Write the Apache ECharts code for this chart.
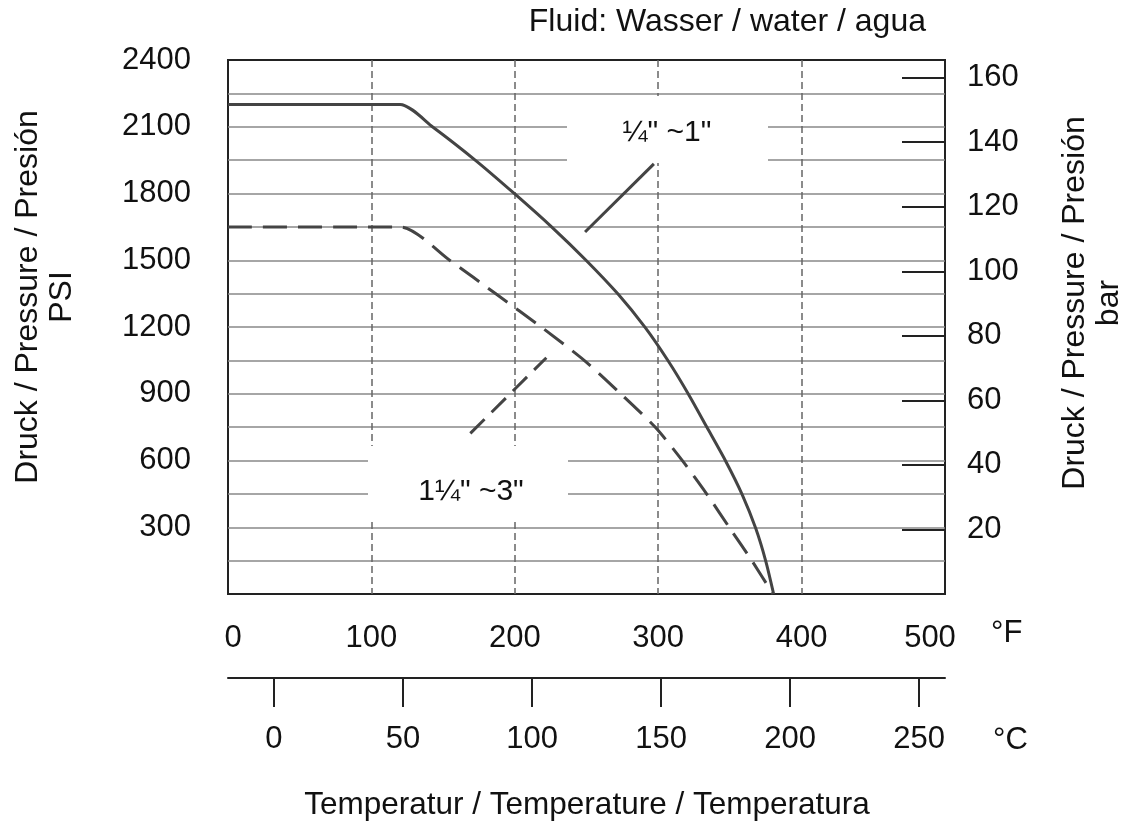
<!DOCTYPE html>
<html>
<head>
    <meta charset="utf-8">
    <title>Druck / Temperatur</title>
    <style>
        html, body { margin: 0; padding: 0; background: #fff; }
        #chart { width: 1130px; height: 830px; }
    </style>
</head>
<body>
<div id="chart"></div>
<script src="https://cdn.jsdelivr.net/npm/echarts@6/dist/echarts.min.js"></script>
<script>
    // 1/4" ~ 1" (solid)
    var smallTempF = [0, 120, 143, 173, 200, 226, 250, 272, 291, 307, 321, 334, 347, 358.5, 368, 375, 380.5];
    var smallPsi = [2200, 2200, 2098, 1947, 1798, 1648, 1498, 1348, 1197, 1047, 899, 749, 598, 448, 295, 148, 0];
    // 1 1/4" ~ 3" (dashed)
    var largeTempF = [0, 120, 155, 187, 219, 249, 274, 298, 317, 334, 350, 365.5, 380];
    var largePsi = [1650, 1650, 1498, 1348, 1197, 1047, 899, 749, 598, 448, 295, 148, 0];
    // leader lines of the two labels
    var smallLeaderF = [249, 297];
    var smallLeaderPsi = [1627, 1933];
    var largeLeaderF = [169, 222];
    var largeLeaderPsi = [722, 1062];

    var psiTicks = [300, 600, 900, 1200, 1500, 1800, 2100, 2400];
    var barTicks = [20, 40, 60, 80, 100, 120, 140, 160];
    var celsiusTicks = [0, 50, 100, 150, 200, 250];
    var PSI_PER_BAR = 14.5038;

    var FONT = '"Liberation Sans", Arial, sans-serif';
    var txt = '#111';

    function pairs(xs, ys) {
        var out = [];
        for (var i = 0; i < xs.length; i++) {
            out.push([xs[i], ys[i]]);
        }
        return out;
    }

    var chart = echarts.init(document.getElementById('chart'));

    chart.setOption({
        animation: false,
        backgroundColor: '#fff',
        grid: {
            left: 228, top: 60, width: 717, height: 534,
            show: true, borderColor: '#222', borderWidth: 2
        },
        xAxis: [
            {
                type: 'value', min: 0, max: 500, interval: 100,
                axisLine: { show: false, onZero: false },
                axisTick: { show: false },
                axisLabel: {
                    margin: 29, fontSize: 31, color: txt, fontFamily: FONT,
                    formatter: function (v) {
                        if (v === 0) return '{l|0}';
                        if (v === 500) return '{r|500}';
                        return String(v);
                    },
                    rich: {
                        l: { fontSize: 31, color: txt, fontFamily: FONT, padding: [0, 0, 0, 10] },
                        r: { fontSize: 31, color: txt, fontFamily: FONT, padding: [0, 30, 0, 0] }
                    }
                },
                splitLine: {
                    show: true, showMinLine: false, showMaxLine: false,
                    lineStyle: { color: '#666', width: 1.5, type: [7, 4] }
                }
            },
            {
                type: 'value', position: 'bottom', offset: 84,
                min: (0 - 32) / 1.8, max: (500 - 32) / 1.8,
                axisLine: { show: true, onZero: false, lineStyle: { color: '#222', width: 2 } },
                axisTick: { show: true, inside: false, length: 29, customValues: celsiusTicks,
                    lineStyle: { color: '#222', width: 2 } },
                axisLabel: { margin: 46, fontSize: 31, color: txt, fontFamily: FONT, customValues: celsiusTicks },
                splitLine: { show: false }
            }
        ],
        yAxis: [
            {
                type: 'value', min: 0, max: 2400, interval: 150,
                axisLine: { show: false, onZero: false },
                axisTick: { show: false },
                axisLabel: {
                    margin: 37, fontSize: 31, color: txt, fontFamily: FONT,
                    formatter: function (v) {
                        return psiTicks.indexOf(v) >= 0 ? String(v) : '';
                    }
                },
                splitLine: {
                    show: true, showMinLine: false, showMaxLine: false,
                    lineStyle: { color: '#888', width: 1.5 }
                }
            },
            {
                type: 'value', position: 'right',
                min: 0, max: 2400 / PSI_PER_BAR,
                axisLine: { show: false, onZero: false },
                axisTick: { show: true, inside: true, length: 43, customValues: barTicks,
                    lineStyle: { color: '#222', width: 2 } },
                axisLabel: { margin: 22, fontSize: 31, color: txt, fontFamily: FONT, customValues: barTicks },
                splitLine: { show: false }
            }
        ],
        series: [
            {
                name: '1/4" ~ 1"', type: 'line', symbol: 'none', smooth: 0.25,
                lineStyle: { color: '#444', width: 3 },
                data: pairs(smallTempF, smallPsi), z: 3
            },
            {
                name: '1 1/4" ~ 3"', type: 'line', symbol: 'none', smooth: 0.25,
                lineStyle: { color: '#444', width: 3, type: [24, 11] },
                data: pairs(largeTempF, largePsi), z: 3
            },
            {
                type: 'line', symbol: 'none',
                lineStyle: { color: '#444', width: 3 },
                data: pairs(smallLeaderF, smallLeaderPsi), z: 3
            },
            {
                type: 'line', symbol: 'none',
                lineStyle: { color: '#444', width: 3, type: [20, 10] },
                data: pairs(largeLeaderF, largeLeaderPsi), z: 3
            }
        ],
        graphic: [
            // white boxes behind the curve labels
            { type: 'rect', z: 1, silent: true, shape: { x: 567, y: 96, width: 201, height: 67 }, style: { fill: '#fff' } },
            { type: 'rect', z: 1, silent: true, shape: { x: 368, y: 446, width: 200, height: 74 }, style: { fill: '#fff' } },
            { type: 'text', z: 5, x: 667, y: 133, style: { text: '\u00BC" ~1"', font: '30px ' + FONT, fill: txt, align: 'center', verticalAlign: 'middle' } },
            { type: 'text', z: 5, x: 471, y: 492, style: { text: '1\u00BC" ~3"', font: '30px ' + FONT, fill: txt, align: 'center', verticalAlign: 'middle' } },
            // titles
            { type: 'text', z: 5, x: 926, y: 22, style: { text: 'Fluid: Wasser / water / agua', font: '32px ' + FONT, fill: txt, align: 'right', verticalAlign: 'middle' } },
            { type: 'text', z: 5, x: 587, y: 805, style: { text: 'Temperatur / Temperature / Temperatura', font: '31.5px ' + FONT, fill: txt, align: 'center', verticalAlign: 'middle' } },
            { type: 'text', z: 5, x: 991, y: 633, style: { text: '\u00B0F', font: '31px ' + FONT, fill: txt, align: 'left', verticalAlign: 'middle' } },
            { type: 'text', z: 5, x: 993, y: 740, style: { text: '\u00B0C', font: '31px ' + FONT, fill: txt, align: 'left', verticalAlign: 'middle' } },
            { type: 'text', z: 5, x: 45, y: 297, rotation: Math.PI / 2,
                style: { text: 'Druck / Pressure / Presi\u00F3n\nPSI', font: '32px ' + FONT, lineHeight: 34, fill: txt, align: 'center', verticalAlign: 'middle' } },
            { type: 'text', z: 5, x: 1092, y: 303, rotation: Math.PI / 2,
                style: { text: 'Druck / Pressure / Presi\u00F3n\nbar', font: '32px ' + FONT, lineHeight: 34, fill: txt, align: 'center', verticalAlign: 'middle' } }
        ]
    });
</script>
</body>
</html>
